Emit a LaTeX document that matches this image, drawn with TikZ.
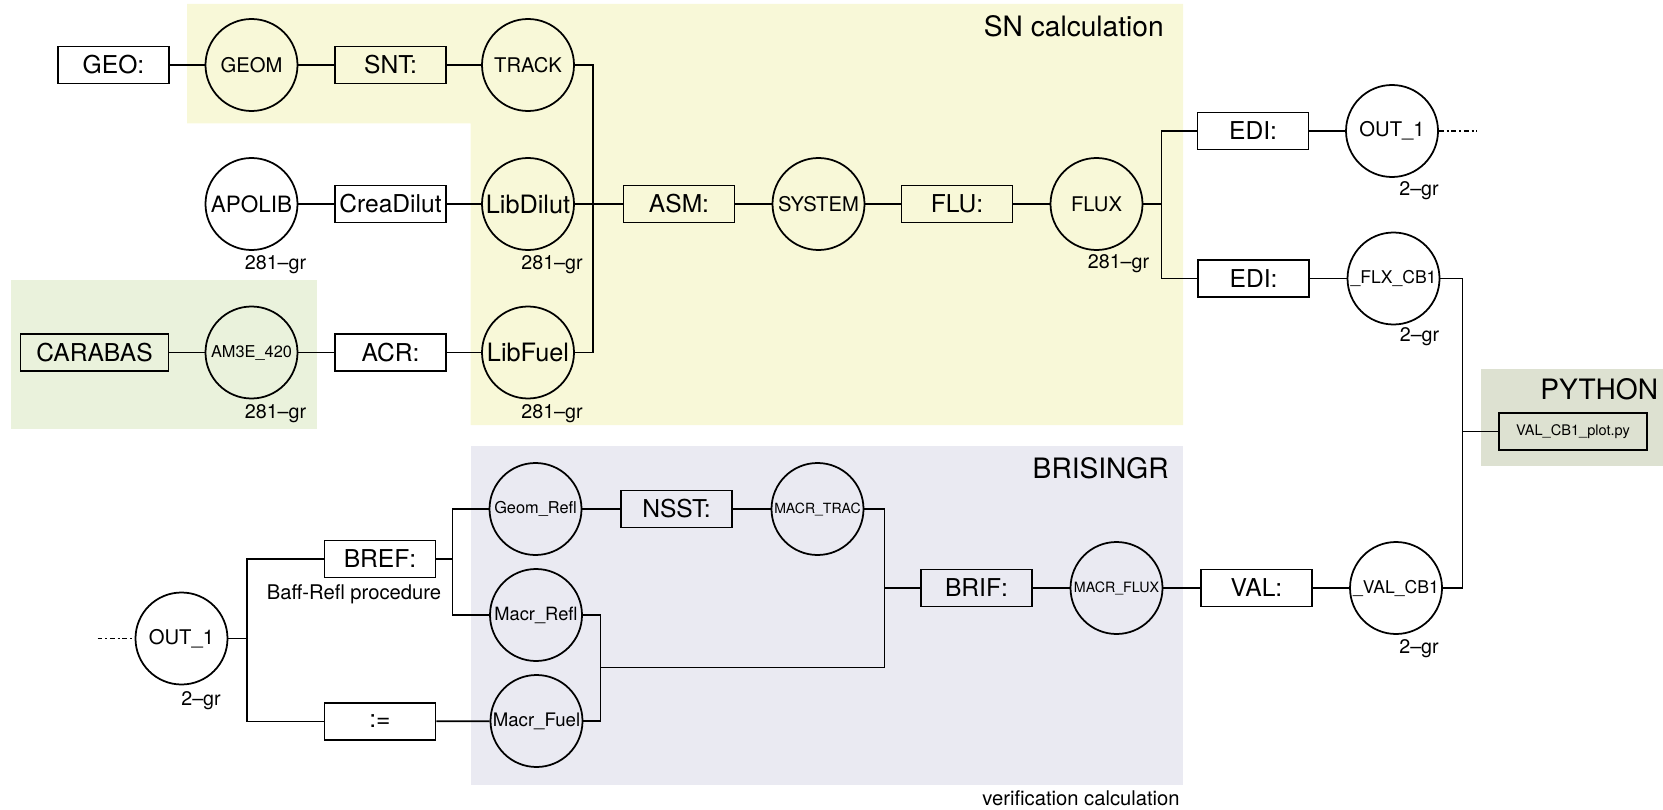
\documentclass[tikz,border=0pt]{standalone}
\usepackage{fontspec}
\setmainfont{TeX Gyre Heros}
\usepackage{tikz}
\usetikzlibrary{positioning, calc, backgrounds}
\definecolor{snfarbe}{RGB}{248,248,216}
\definecolor{acrfarbe}{RGB}{234,242,220}
\definecolor{brifarbe}{RGB}{234,234,242}
\definecolor{pyfarbe}{RGB}{221,225,209}
\newcommand{\schrift}[1]{\fontsize{#1}{#1}\selectfont}
\tikzset{
    kasten/.style = {draw, line width=1pt, minimum width=2.22cm, minimum height=0.74cm,
                     inner sep=0pt, font=\schrift{14}},
    kreis/.style  = {draw, circle, line width=1pt, minimum size=1.84cm, inner sep=0pt,
                     font=\schrift{11.5}},
    linie/.style  = {line width=1pt},
    strich/.style = {linie, dash pattern=on 2.8pt off 1.6pt on 1.1pt off 1.6pt},
    gruppe/.style = {font=\schrift{16}, inner sep=0pt, anchor=east},
    notiz/.style  = {font=\schrift{11.5}, inner sep=0pt},
    grad/.style   = {font=\schrift{11.2}, inner sep=0pt}
}

\begin{document}
\begin{tikzpicture}[x=1cm, y=1cm]
    \useasboundingbox (0,0) rectangle (33.26,-16.20);

    % --- SN calculation ---
    \node[kasten] (geo)   at (2.27,-1.30)  {GEO:};
    \node[kreis]  (geom)  at (5.03,-1.30)  {GEOM};
    \node[kasten] (snt)   at (7.81,-1.30)  {SNT:};
    \node[kreis]  (track) at (10.56,-1.30) {TRACK};

    \node[kreis, font=\schrift{12.8}]  (apolib)    at (5.03,-4.08)  {APOLIB};
    \node[kasten]                      (creadilut) at (7.81,-4.08)  {CreaDilut};
    \node[kreis, font=\schrift{14.4}]  (libdilut)  at (10.56,-4.08) {LibDilut};
    \node[kasten]                      (asm)       at (13.58,-4.08) {ASM:};
    \node[kreis]                       (system)    at (16.37,-4.08) {SYSTEM};
    \node[kasten]                      (flu)       at (19.14,-4.08) {FLU:};
    \node[kreis]                       (flux)      at (21.93,-4.08) {FLUX};

    \node[kasten, minimum width=2.96cm] (carabas) at (1.89,-7.05)  {CARABAS};
    \node[kreis, font=\schrift{9.3}]    (am3e)    at (5.03,-7.05)  {AM3E\_420};
    \node[kasten]                       (acr)     at (7.81,-7.05)  {ACR:};
    \node[kreis, font=\schrift{14.4}]   (libfuel) at (10.56,-7.05) {LibFuel};

    \node[grad] (apolib-gr)   at ($(apolib)+(0.48,-1.22)$)   {281--gr};
    \node[grad] (libdilut-gr) at ($(libdilut)+(0.48,-1.22)$) {281--gr};
    \node[grad] (am3e-gr)     at ($(am3e)+(0.48,-1.22)$)     {281--gr};
    \node[grad] (libfuel-gr)  at ($(libfuel)+(0.48,-1.22)$)  {281--gr};
    \node[grad] (flux-gr)     at ($(flux)+(0.44,-1.19)$)     {281--gr};

    \coordinate (snbus) at (11.86,-4.08);
    \draw[linie] (geo) -- (geom) -- (snt) -- (track);
    \draw[linie] (apolib) -- (creadilut) -- (libdilut);
    \draw[linie] (carabas) -- (am3e) -- (acr) -- (libfuel);
    \draw[linie] (track.east) -| (snbus) |- (libfuel.east);
    \draw[linie] (libdilut) -- (asm) -- (system) -- (flu) -- (flux);

    \node[gruppe] (sntitel) at (23.28,-0.53) {SN calculation};

    % --- Ausgabe ---
    \node[kasten]                     (edi1)   at (25.06,-2.62) {EDI:};
    \node[kreis]                      (out1)   at (27.84,-2.62) {OUT\_1};
    \node[kasten]                     (edi2)   at (25.07,-5.57) {EDI:};
    \node[kreis, font=\schrift{10}]   (flxcb1) at (27.87,-5.57) {\_FLX\_CB1};

    \node[grad] (out1-gr)   at ($(out1)+(0.54,-1.20)$)   {2--gr};
    \node[grad] (flxcb1-gr) at ($(flxcb1)+(0.52,-1.17)$) {2--gr};

    \coordinate (fj)      at (23.23,-4.08);
    \coordinate (out1end) at (29.53,-2.62);
    \draw[linie] (flux) -- (fj);
    \draw[linie] (edi1.west) -| (fj) |- (edi2.west);
    \draw[linie] (edi1) -- (out1);
    \draw[linie] (edi2) -- (flxcb1);
    \draw[strich] (out1.east) -- (out1end);

    % --- BRISINGR ---
    \node[kreis]                        (out1b)    at (3.63,-12.77)  {OUT\_1};
    \node[kasten]                       (bref)     at (7.60,-11.18)  {BREF:};
    \node[kasten]                       (assign)   at (7.60,-14.43)  {:=};
    \node[kreis, font=\schrift{9.3}]    (geomrefl) at (10.71,-10.18) {Geom\_Refl};
    \node[kreis, font=\schrift{10.4}]   (macrrefl) at (10.72,-12.30) {Macr\_Refl};
    \node[kreis, font=\schrift{10.6}]   (macrfuel) at (10.73,-14.42) {Macr\_Fuel};
    \node[kasten]                       (nsst)     at (13.53,-10.18) {NSST:};
    \node[kreis, font=\schrift{8}]      (macrtrac) at (16.35,-10.18) {MACR\_TRAC};
    \node[kasten]                       (brif)     at (19.53,-11.76) {BRIF:};
    \node[kreis, font=\schrift{8.1}]    (macrflux) at (22.33,-11.76) {MACR\_FLUX};
    \node[kasten]                       (val)      at (25.13,-11.76) {VAL:};
    \node[kreis, font=\schrift{10}]     (valcb1)   at (27.92,-11.76) {\_VAL\_CB1};

    \node[grad]  (out1b-gr)  at ($(out1b)+(0.39,-1.24)$)  {2--gr};
    \node[grad]  (valcb1-gr) at ($(valcb1)+(0.46,-1.21)$) {2--gr};
    \node[notiz] (baff)      at (7.08,-11.88) {Baff-Refl procedure};

    \coordinate (out1bstart) at (1.95,-12.77);
    \coordinate (oj) at (4.94,-12.77);
    \coordinate (rj) at (9.05,-11.18);
    \coordinate (mj) at (12.01,-13.35);
    \coordinate (bj) at (17.69,-11.76);
    \draw[strich] (out1bstart) -- (out1b.west);
    \draw[linie] (out1b) -- (oj);
    \draw[linie] (bref.west) -| (oj) |- (assign.west);
    \draw[linie] (bref) -- (rj);
    \draw[linie] (geomrefl.west) -| (rj) |- (macrrefl.west);
    \draw[linie] (assign) -- (macrfuel);
    \draw[linie] (geomrefl) -- (nsst) -- (macrtrac);
    \draw[linie] (macrrefl.east) -| (mj) |- (macrfuel.east);
    \draw[linie] (macrtrac.east) -| (bj) |- (mj);
    \draw[linie] (bj) -- (brif) -- (macrflux) -- (val) -- (valcb1);

    \node[gruppe] (brititel) at (23.38,-9.36)  {BRISINGR};
    \node[gruppe, font=\schrift{11.5}] (verif) at (23.60,-15.96) {verification calculation};

    % --- PYTHON ---
    \node[kasten, minimum width=2.97cm, font=\schrift{8.3}] (pyplot) at (31.46,-8.63) {VAL\_CB1\_plot.py};
    \node[gruppe] (pytitel) at (33.17,-7.78) {PYTHON};

    \coordinate (pj) at (29.25,-8.63);
    \draw[linie] (flxcb1.east) -| (pj) |- (valcb1.east);
    \draw[linie] (pj) -- (pyplot);

    % --- Bereiche ---
    \begin{scope}[on background layer]
        \fill[snfarbe] (3.74,-0.08) -- (23.66,-0.08) -- (23.66,-8.50) -- (9.41,-8.50)
            -- (9.41,-2.47) -- (3.74,-2.47) -- cycle;
        \fill[acrfarbe] (0.23,-5.59) rectangle (6.34,-8.57);
        \fill[brifarbe] (9.41,-8.91) rectangle (23.66,-15.69);
        \fill[pyfarbe]  (29.62,-7.38) rectangle (33.26,-9.32);
    \end{scope}
\end{tikzpicture}
\end{document}
